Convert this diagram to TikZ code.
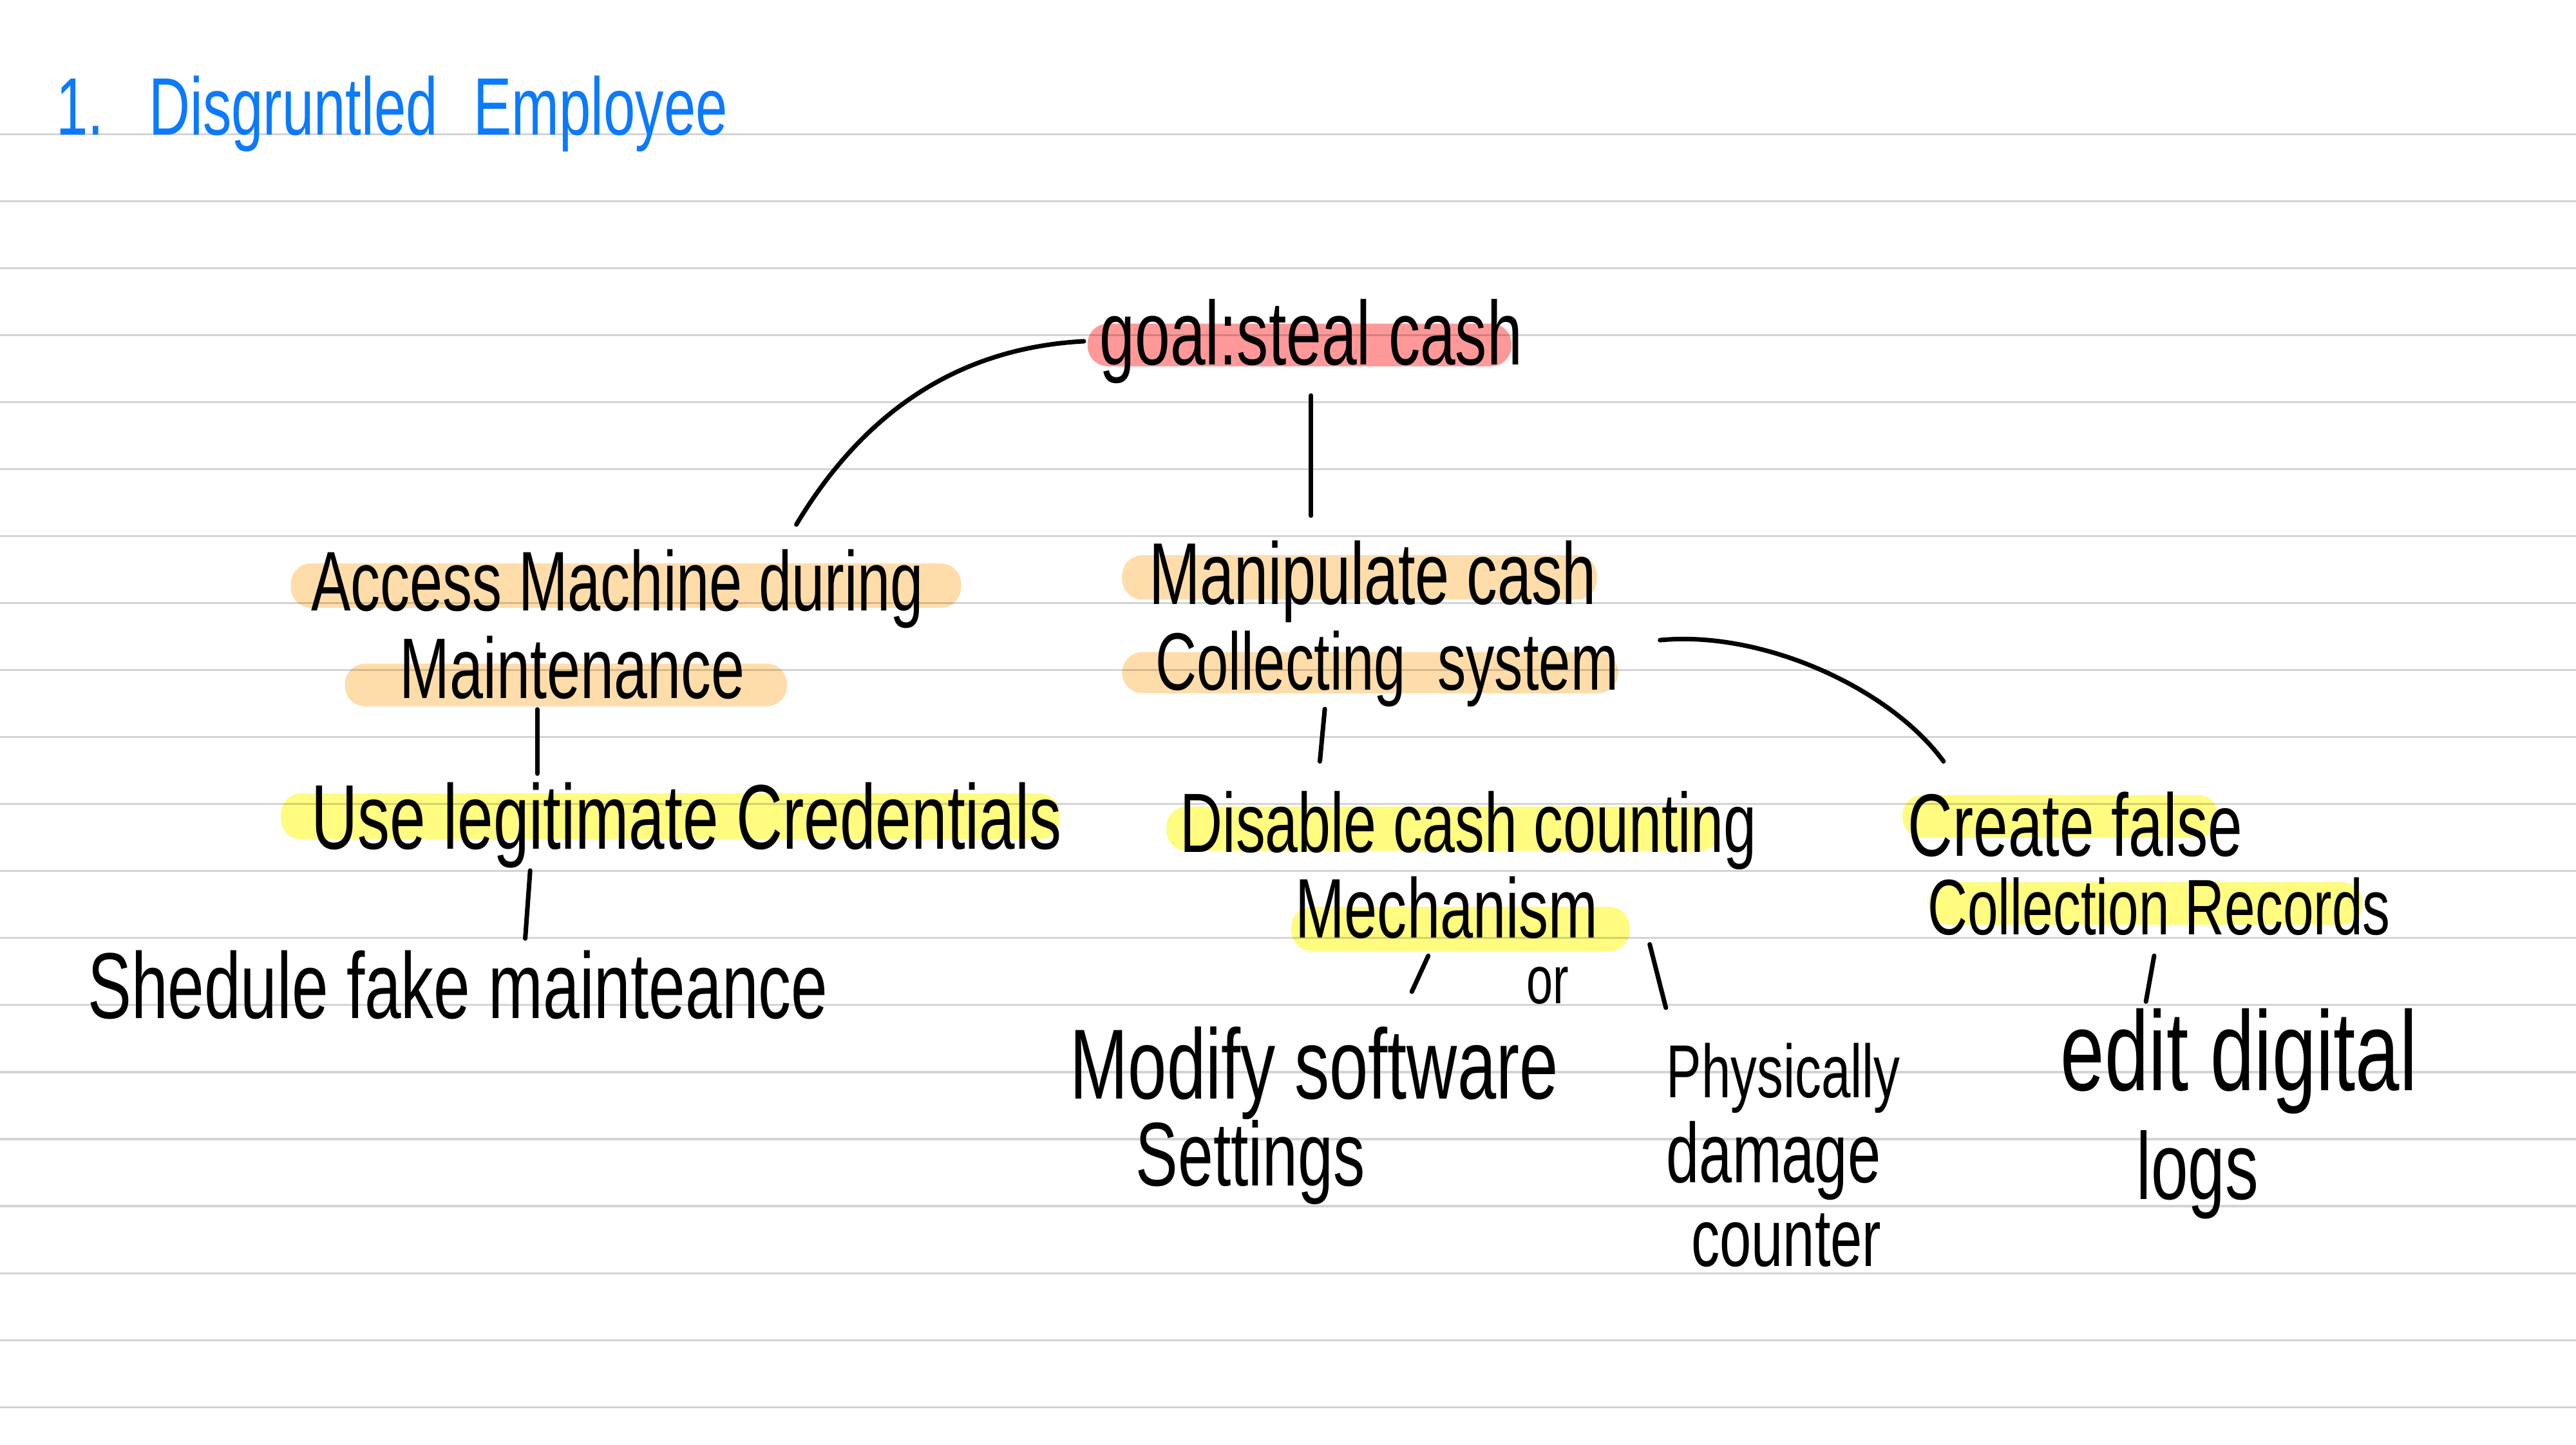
\documentclass[tikz,border=0pt]{standalone}
\usepackage{fontspec}
\setmainfont{Liberation Sans}[FakeStretch=0.7]
\usetikzlibrary{calc}
\definecolor{goalred}{RGB}{255,153,153}
\definecolor{subor}{RGB}{255,221,170}
\definecolor{leafyel}{RGB}{255,252,128}
\definecolor{ruled}{RGB}{212,212,212}
\definecolor{titleblue}{RGB}{10,122,255}

\begin{document}
\begin{tikzpicture}[
    x=0.012755cm, y=-0.012755cm,
    line width=1pt, line cap=round,
    hand/.style={inner sep=0pt, anchor=base west, font=\fontsize{#1}{#1}\selectfont},
    hand/.default=19,
    hl/.style={fill=#1, rounded corners=4.5pt, blend mode=multiply},
    ruling/.style={draw=ruled, line width=0.45pt, line cap=butt}
]
\useasboundingbox (0,0) rectangle (1568,879.6);
\fill[white] (0,0) rectangle (1568,879.6);
\foreach \k in {0,...,19}
    \draw[ruling] (0,{81.6+40.79*\k}) -- (1568,{81.6+40.79*\k});

\fill[hl=goalred] (662,197) rectangle (920,223);
\fill[hl=subor] (177,343) rectangle (585,370);
\fill[hl=subor] (210,404) rectangle (479,430);
\fill[hl=subor] (683,338) rectangle (972,365);
\fill[hl=subor] (683,397) rectangle (985,422);
\fill[hl=leafyel] (171,483) rectangle (645,511);
\fill[hl=leafyel] (710,491) rectangle (1047,518);
\fill[hl=leafyel] (786,552) rectangle (992,579);
\fill[hl=leafyel] (1158,484) rectangle (1350,510);
\fill[hl=leafyel] (1174,537) rectangle (1438,563);

\node[hand=18, text=titleblue] (title) at (33,82) {1.\hspace{10pt}Disgruntled\hspace{8pt}Employee};
\node[hand=20] (goal) at (668,222) {goal:steal cash};
\node[hand=18.7] (access) at (188,372) {Access Machine during};
\node[hand=19] (accessb) at (242,425) {Maintenance};
\node[hand=20.3] (use) at (188,517) {Use legitimate Credentials};
\node[hand=20.7] (shed) at (52,620) {Shedule fake mainteance};
\node[hand=19.4] (manip) at (698,368) {Manipulate cash};
\node[hand=18] (manipb) at (702,420) {Collecting~~system};
\node[hand=18.6] (disable) at (717,519) {Disable cash counting};
\node[hand=18.7] (disableb) at (787,571) {Mechanism};
\node[hand=15] (ornote) at (928,611) {or};
\node[hand=22] (modify) at (650,669) {Modify software};
\node[hand=20] (modifyb) at (690,722) {Settings};
\node[hand=16.6] (phys) at (1013,668) {Physically};
\node[hand=18.7] (physb) at (1013,720) {damage};
\node[hand=18] (physc) at (1028,771) {counter};
\node[hand=19.6] (create) at (1160,521) {Create false};
\node[hand=17.4] (createb) at (1172,569) {Collection Records};
\node[hand=25] (edit) at (1253,664) {edit digital};
\node[hand=21] (editb) at (1299,730) {logs};

\draw ([xshift=-3pt]goal.west) .. controls +(-75,4) and +(42,-70) .. ($(access.north west)!.79!(access.north east)+(0,-14)$);
\draw ($(goal.south)+(0,6)$) -- ($(goal.south |- manip.north)+(0,-14)$);
\draw[shorten <=1.8pt, shorten >=1.5pt] ($(accessb.south west)!.4!(accessb.south east)$) coordinate (m) -- (m |- use.north);
\draw ($(use.south west)!.293!(use.south east)$) coordinate (u) -- ($(u |- shed.north)+(-3,-6)$);
\draw ($(manipb.south west)!.367!(manipb.south east)$) coordinate (c) -- ($(c |- disable.north)+(-3,-17)$);
\draw ($(disableb.south west)!.44!(disableb.south east)+(0,9)$) coordinate (s) -- ($(s |- modify.north)+(-10,-20)$);
\draw ($(disableb.south east)+(30,2)$) -- ($(phys.north west)+(1,-20)$);
\draw ($(manipb.north east)+(24,7)$) .. controls +(62,-6) and +(-33,-45) .. ($(create.north west)+(23,-17)$);
\draw ($(createb.south)+(-3,11)$) -- ($(createb.south |- edit.north)+(-8,-3)$);
\end{tikzpicture}
\end{document}
